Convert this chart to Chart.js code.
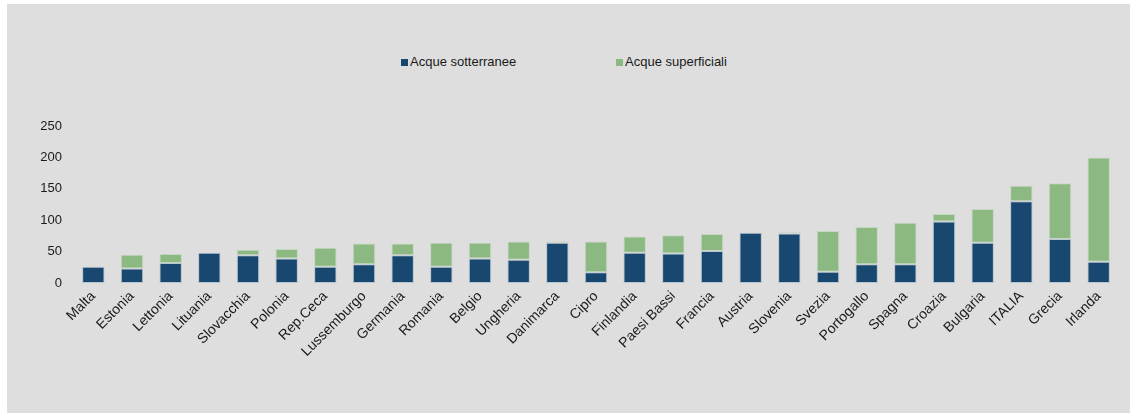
<!DOCTYPE html>
<html>
<head>
<meta charset="utf-8">
<script src="https://cdn.jsdelivr.net/npm/chart.js@4"></script>
<style>
  html, body { margin: 0; padding: 0; background: #ffffff; }
  #panel { position: absolute; left: 7px; top: 4px; width: 1123px; height: 409px; background: #dedede; }
  #wrap { position: absolute; left: 0; top: 0; width: 1123px; height: 409px; }
  .leg { position: absolute; top: 50px; font: 13px "Liberation Sans", Arial, sans-serif; color: #1a1a1a; white-space: nowrap; }
  .leg i { display: inline-block; width: 7px; height: 7px; margin-right: 2px; vertical-align: 0px; }
</style>
</head>
<body>
<div id="panel">
  <div class="leg" style="left:394px"><i style="background:#18486f"></i>Acque sotterranee</div>
  <div class="leg" style="left:609px"><i style="background:#8bb981"></i>Acque superficiali</div>
  <div id="wrap"><canvas id="c"></canvas></div>
</div>
<script>
  const countries = ["Malta","Estonia","Lettonia","Lituania","Slovacchia","Polonia","Rep.Ceca","Lussemburgo","Germania","Romania","Belgio","Ungheria","Danimarca","Cipro","Finlandia","Paesi Bassi","Francia","Austria","Slovenia","Svezia","Portogallo","Spagna","Croazia","Bulgaria","ITALIA","Grecia","Irlanda"];
  const sotterranee = [26, 23, 32, 48, 44, 39, 26, 30, 44, 26, 39, 37, 64, 17, 48, 47, 51, 80, 79, 18, 30, 30, 98, 64, 130, 70, 34];
  const superficiali = [0, 22, 14, 0, 9, 15, 30, 33, 19, 38, 25, 29, 2, 49, 26, 29, 27, 0, 2, 65, 59, 66, 12, 54, 25, 89, 166];
  const yTicks = [0, 50, 100, 150, 200, 250];

  const fontY = { family: "'Liberation Sans', Arial, sans-serif", size: 13 };
  const fontX = { family: "'Liberation Sans', Arial, sans-serif", size: 14 };

  new Chart(document.getElementById("c"), {
    type: "bar",
    data: {
      labels: countries,
      datasets: [
        { label: "Acque sotterranee", data: sotterranee, backgroundColor: "#18486f", borderColor: "rgba(160,180,200,0.6)", borderWidth: 1, borderSkipped: false },
        { label: "Acque superficiali", data: superficiali, backgroundColor: "#8bb981", borderColor: "rgba(180,210,175,0.6)", borderWidth: 1, borderSkipped: false }
      ]
    },
    options: {
      responsive: true,
      maintainAspectRatio: false,
      animation: false,
      layout: { padding: { top: 122, right: 12, left: 0, bottom: 0 } },
      datasets: { bar: { categoryPercentage: 1, barPercentage: 0.58 } },
      plugins: { legend: { display: false }, tooltip: { enabled: false } },
      scales: {
        x: {
          stacked: true,
          grid: { display: false, drawTicks: false },
          border: { display: false },
          ticks: { color: "#1a1a1a", font: fontX, minRotation: 45, maxRotation: 45, padding: 5, autoSkip: false },
          afterFit: s => { s.height = 130; }
        },
        y: {
          stacked: true,
          min: 0, max: 250,
          grid: { display: false, drawTicks: false },
          border: { display: false },
          afterBuildTicks: s => { s.ticks = yTicks.map(v => ({ value: v })); },
          ticks: { color: "#1a1a1a", font: fontY, padding: 12 },
          afterFit: s => { s.width = 67; }
        }
      }
    }
  });
</script>
</body>
</html>
